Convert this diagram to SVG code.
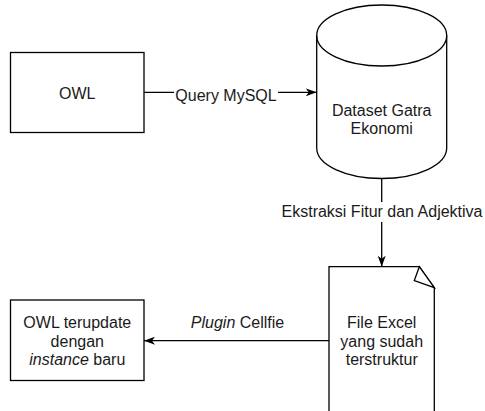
<svg xmlns="http://www.w3.org/2000/svg" width="485" height="411" viewBox="0 0 485 411">
  <style>
    .shape { fill: #ffffff; stroke: #000000; stroke-width: 1.3; }
    .edge { fill: none; stroke: #000000; stroke-width: 1.3; }
    .label { font-family: "Liberation Sans", Arial, Helvetica, sans-serif; font-size: 16px; fill: #1a1a1a; text-anchor: middle; }
    .lbl-bg { fill: #ffffff; stroke: none; }
  </style>
  <defs>
    <marker id="arrow" viewBox="0 0 11 8" refX="11" refY="4" markerWidth="11" markerHeight="8" markerUnits="userSpaceOnUse" orient="auto">
      <path d="M0,0 L11,4 L0,8 L3,4 Z" fill="#000000"/>
    </marker>
  </defs>
  <rect width="485" height="411" fill="#ffffff"/>

  <!-- connectors -->
  <g id="connectors">
    <g id="edge-query">
      <path class="edge" d="M144,92.3 L316.7,92.3" marker-end="url(#arrow)"/>
      <rect class="lbl-bg" x="174" y="84" width="104" height="20"/>
      <text class="label" x="226" y="101">Query MySQL</text>
    </g>
    <g id="edge-ekstraksi">
      <path class="edge" d="M381.7,178.5 L381.7,266.7" marker-end="url(#arrow)"/>
      <rect class="lbl-bg" x="282" y="202" width="200" height="20"/>
      <text class="label" x="382" y="217">Ekstraksi Fitur dan Adjektiva</text>
    </g>
    <g id="edge-cellfie">
      <path class="edge" d="M329,340.7 L144,340.7" marker-end="url(#arrow)"/>
      <text class="label" x="237.5" y="328"><tspan font-style="italic">Plugin</tspan> Cellfie</text>
    </g>
  </g>

  <!-- OWL source box -->
  <g id="node-owl">
    <rect class="shape" x="10.5" y="52.5" width="133.5" height="80"/>
    <text class="label" x="77.3" y="98.5">OWL</text>
  </g>

  <!-- dataset cylinder -->
  <g id="node-dataset">
    <path class="shape" d="M316.7,35.5 A65,30.5 0 0 1 446.7,35.5 L446.7,148 A65,30.5 0 0 1 316.7,148 Z"/>
    <path class="edge" d="M316.7,35.5 A65,30.5 0 0 0 446.7,35.5"/>
    <text class="label" x="381.7" y="115.5">Dataset Gatra</text>
    <text class="label" x="381.7" y="134">Ekonomi</text>
  </g>

  <!-- structured Excel document -->
  <g id="node-excel">
    <path class="shape" d="M329,266.7 L419.3,266.7 L434.3,287.7 L434.3,425 L329,425 Z"/>
    <path class="shape" d="M419.3,266.7 L414.3,280.5 L434.3,287.7 Z"/>
    <text class="label" x="381.7" y="328">File Excel</text>
    <text class="label" x="381.7" y="346.5">yang sudah</text>
    <text class="label" x="381.7" y="365">terstruktur</text>
  </g>

  <!-- updated OWL box -->
  <g id="node-owl-updated">
    <rect class="shape" x="10.5" y="300" width="133.5" height="80.5"/>
    <text class="label" x="77.3" y="328">OWL terupdate</text>
    <text class="label" x="77.3" y="346.5">dengan</text>
    <text class="label" x="77.3" y="365"><tspan font-style="italic">instance</tspan> baru</text>
  </g>
</svg>
